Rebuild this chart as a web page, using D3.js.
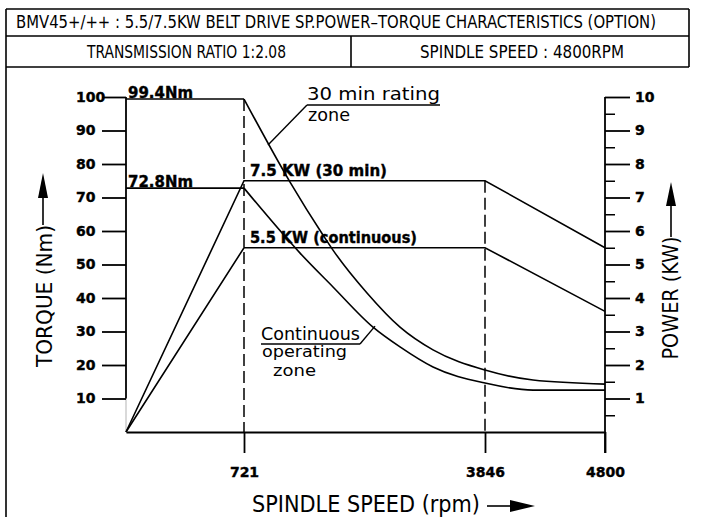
<!DOCTYPE html>
<html>
<head>
<meta charset="utf-8">
<script src="https://cdn.jsdelivr.net/npm/d3@7"></script>
<style>
    body { margin: 0; background: #fff; }
    #space { width: 701px; height: 517px; }
    .cad { font-family: "Liberation Sans Narrow", "DejaVu Sans Condensed", "Liberation Sans", sans-serif; }
    .round { font-family: "DejaVu Sans", sans-serif; }
    .bold { font-family: "DejaVu Sans", sans-serif; font-weight: bold; stroke: black; stroke-width: 0.4px; }
</style>
</head>
<body>
<div id="space"></div>
<script>
// spindle speed break points (rpm)
var rpm_ticks = [721, 3846, 4800];
var torque_ticks = [10, 20, 30, 40, 50, 60, 70, 80, 90, 100];
var power_ticks = [1, 2, 3, 4, 5, 6, 7, 8, 9, 10];
var power_minor = [0.5, 1.5, 2.5, 3.5, 4.5, 5.5, 6.5, 7.5, 8.5, 9.5];

// torque (Nm) - constant part and decaying part
var torque30_flat = [[0, 99.4], [721, 99.4]];
var torque30_curve = [[721, 99.4], [1318, 74.6], [1745, 58.8], [1875, 54.3], [2316, 41.5],
                      [2744, 31.3], [3172, 24.5], [3846, 18.5], [4228, 15.5], [4800, 14.3]];
var torqueCont_flat = [[0, 72.8], [721, 72.8]];
var torqueCont_curve = [[721, 72.8], [1318, 56.7], [1448, 53.4], [1875, 43.3], [2394, 31.3],
                        [2744, 25.4], [3172, 19.4], [3846, 14.6], [4228, 12.5], [4800, 12.5]];

// power (KW)
var power30 = [[0, 0], [721, 7.5], [3846, 7.5], [4800, 5.5]];
var powerCont = [[0, 0], [721, 5.5], [3846, 5.5], [4800, 3.6]];

var svg, x, yT, yP;

init();

function init() {
    initSvg();
    drawHeader();
    drawAxes();
    drawCurves();
    drawLabels();
}

function initSvg() {
    svg = d3.select("#space").append("svg")
        .attr("xmlns", "http://www.w3.org/2000/svg")
        .attr("width", 701)
        .attr("height", 517);

    // the speed axis is drawn schematic, not to scale
    x = d3.scaleLinear().domain([0, 721, 3846, 4800]).range([126, 244, 485, 605]);
    yT = d3.scaleLinear().domain([0, 100]).range([432, 97]);
    yP = d3.scaleLinear().domain([0, 10]).range([432, 97]);
}

function seg(g, x1, y1, x2, y2, w) {
    return g.append("line")
        .attr("x1", x1).attr("y1", y1).attr("x2", x2).attr("y2", y2)
        .attr("stroke", "black").attr("stroke-width", w || 1.6);
}

/************************************************
                Title block
*************************************************/
function drawHeader() {
    var g = svg.append("g").attr("id", "header");
    seg(g, 6, 9, 689, 9);
    seg(g, 6, 36, 689, 36);
    seg(g, 6, 67, 689, 67);
    seg(g, 689, 9, 689, 67);
    seg(g, 351, 36, 351, 67);
    seg(g, 6, 9, 6, 517);

    g.append("text").attr("class", "cad")
        .attr("x", 16).attr("y", 28)
        .attr("font-size", 17)
        .attr("textLength", 640).attr("lengthAdjust", "spacingAndGlyphs")
        .text("BMV45+/++ : 5.5/7.5KW BELT DRIVE SP.POWER\u2013TORQUE CHARACTERISTICS (OPTION)");
    g.append("text").attr("class", "cad")
        .attr("x", 87).attr("y", 58)
        .attr("font-size", 18)
        .attr("textLength", 199).attr("lengthAdjust", "spacingAndGlyphs")
        .text("TRANSMISSION RATIO 1:2.08");
    g.append("text").attr("class", "cad")
        .attr("x", 420).attr("y", 58)
        .attr("font-size", 18)
        .attr("textLength", 204).attr("lengthAdjust", "spacingAndGlyphs")
        .text("SPINDLE SPEED : 4800RPM");
}

/************************************************
                Axes
*************************************************/
function drawAxes() {
    // torque axis (left)
    var left = svg.append("g").attr("transform", "translate(126,0)")
        .call(d3.axisLeft(yT).tickValues(torque_ticks).tickSize(24).tickSizeOuter(0));
    left.select(".domain").remove();
    left.selectAll(".tick line").attr("stroke", "black").attr("stroke-width", 1.8);
    left.selectAll(".tick text")
        .attr("class", "bold")
        .attr("x", -50).attr("text-anchor", "start")
        .attr("font-size", 14).attr("fill", "black");
    seg(svg, 126, yT(100), 126, yT(10), 1.8);
    seg(svg, 126, yT(10), 126, yT(0), 0.6).attr("stroke-dasharray", "1,1");

    // power axis (right)
    var right = svg.append("g").attr("transform", "translate(605,0)")
        .call(d3.axisRight(yP).tickValues(power_ticks).tickSize(25).tickSizeOuter(0));
    right.select(".domain").remove();
    right.selectAll(".tick line").attr("stroke", "black").attr("stroke-width", 1.8);
    right.selectAll(".tick text")
        .attr("class", "bold")
        .attr("x", 30).attr("text-anchor", "start")
        .attr("font-size", 14).attr("fill", "black");
    var minor = svg.append("g").attr("transform", "translate(605,0)")
        .call(d3.axisRight(yP).tickValues(power_minor).tickSize(10).tickSizeOuter(0).tickFormat(""));
    minor.select(".domain").remove();
    minor.selectAll(".tick line").attr("stroke", "black").attr("stroke-width", 1.5);
    seg(svg, 605, yP(10), 605, 453, 1.8);

    // speed axis (bottom)
    var bottom = svg.append("g").attr("transform", "translate(0,432)")
        .call(d3.axisBottom(x).tickValues(rpm_ticks).tickSize(21).tickSizeOuter(0)
            .tickFormat(d3.format("d")));
    bottom.select(".domain").attr("stroke-width", 1.8);
    bottom.selectAll(".tick line").attr("stroke", "black").attr("stroke-width", 1.8);
    bottom.selectAll(".tick text")
        .attr("class", "bold")
        .attr("y", 40).attr("dy", "0.35em")
        .attr("font-size", 14).attr("fill", "black");

    // dashed guides at the break points
    seg(svg, x(721), yT(99.4), x(721), yT(0), 1.5).attr("stroke-dasharray", "12,5");
    seg(svg, x(3846), yP(7.5), x(3846), yT(0), 1.5).attr("stroke-dasharray", "12,5");
}

/************************************************
                Curves
*************************************************/
function drawCurves() {
    var g = svg.append("g").attr("id", "path");
    var straightT = d3.line().x(function (d) { return x(d[0]); }).y(function (d) { return yT(d[1]); });
    var smoothT = d3.line().x(function (d) { return x(d[0]); }).y(function (d) { return yT(d[1]); })
        .curve(d3.curveMonotoneX);
    var straightP = d3.line().x(function (d) { return x(d[0]); }).y(function (d) { return yP(d[1]); });

    var list = [
        [torque30_flat, straightT], [torque30_curve, smoothT],
        [torqueCont_flat, straightT], [torqueCont_curve, smoothT],
        [power30, straightP], [powerCont, straightP]
    ];
    for (var i = 0; i < list.length; i++) {
        g.append("path")
            .attr("d", list[i][1](list[i][0]))
            .attr("fill", "none")
            .attr("stroke", "black")
            .attr("stroke-width", 1.6);
    }
}

/************************************************
                Texts & arrows
*************************************************/
function drawLabels() {
    var g = svg.append("g").attr("id", "text");

    function boldLabel(txt, x0, y0, len) {
        g.append("text").attr("class", "bold")
            .attr("x", x0).attr("y", y0)
            .attr("font-size", 15)
            .attr("textLength", len).attr("lengthAdjust", "spacingAndGlyphs")
            .text(txt);
    }
    boldLabel("99.4Nm", 128, 97.5, 65);
    boldLabel("72.8Nm", 128, 187, 65);
    boldLabel("7.5 KW (30 min)", 250, 176, 137);
    boldLabel("5.5 KW (continuous)", 250, 243, 167);

    function roundText(txt, x0, y0, len, size) {
        g.append("text").attr("class", "round")
            .attr("x", x0).attr("y", y0)
            .attr("font-size", size)
            .attr("textLength", len).attr("lengthAdjust", "spacingAndGlyphs")
            .text(txt);
    }
    // 30 min rating zone
    roundText("30  min  rating", 307, 100, 133, 18);
    roundText("zone", 308, 121, 42, 18);
    seg(g, 307, 105, 440, 105, 1.4);
    seg(g, 307, 105, x(1032), yT(85.7), 1.4);

    // continuous operating zone
    roundText("Continuous", 261, 340, 99, 17);
    roundText("operating", 262, 357, 85, 15);
    roundText("zone", 273, 376, 43, 15);
    seg(g, 261, 344, 360, 344, 1.4);
    seg(g, 360, 344, x(2420), yT(31.6), 1.4);

    // axis titles
    g.append("text").attr("class", "cad")
        .attr("transform", "translate(52,296) rotate(-90)")
        .attr("text-anchor", "middle")
        .attr("font-size", 22)
        .attr("textLength", 142).attr("lengthAdjust", "spacingAndGlyphs")
        .text("TORQUE  (Nm)");
    g.append("text").attr("class", "cad")
        .attr("transform", "translate(678,298) rotate(-90)")
        .attr("text-anchor", "middle")
        .attr("font-size", 22)
        .attr("textLength", 123).attr("lengthAdjust", "spacingAndGlyphs")
        .text("POWER  (KW)");
    g.append("text").attr("class", "cad")
        .attr("x", 252).attr("y", 512)
        .attr("font-size", 23)
        .attr("textLength", 228).attr("lengthAdjust", "spacingAndGlyphs")
        .text("SPINDLE  SPEED  (rpm)");

    // arrows
    seg(g, 43, 225, 43, 190, 1.6);
    g.append("path").attr("d", "M43,173 L38,198 L48,198 Z").attr("fill", "black");
    seg(g, 671, 237, 671, 200, 1.6);
    g.append("path").attr("d", "M671,182 L666,206 L676,206 Z").attr("fill", "black");
    seg(g, 487, 506, 515, 506, 1.6);
    g.append("path").attr("d", "M535,506 L510,500 L510,512 Z").attr("fill", "black");
}
</script>
</body>
</html>
